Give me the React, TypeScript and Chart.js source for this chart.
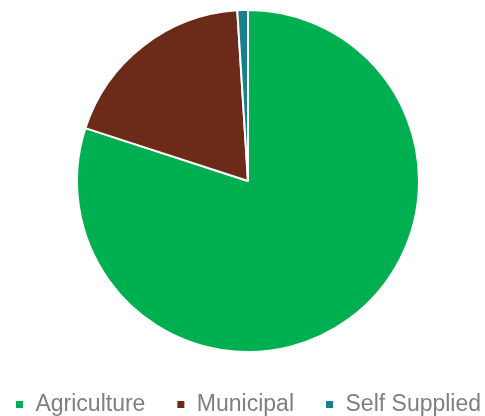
import React, { useEffect, useRef } from "react";
import { Chart, registerables } from "chart.js";

Chart.register(...registerables);

const categories = ["Agriculture", "Municipal", "Self Supplied"];
const values = [80, 19, 1];
const colors = ["#00B050", "#6B2B18", "#18808C"];

const CANVAS_W = 530;
const CANVAS_H = 426;

export default function App() {
  const ref = useRef<HTMLCanvasElement | null>(null);
  useEffect(() => {
    if (!ref.current) return;
    const chart = new Chart(ref.current, {
      type: "pie",
      data: {
        labels: categories,
        datasets: [
          {
            data: values,
            backgroundColor: colors,
            borderColor: "#ffffff",
            borderWidth: 2,
          },
        ],
      },
      options: {
        animation: false,
        responsive: false,
        maintainAspectRatio: false,
        radius: 171,
        layout: { padding: 0 },
        plugins: {
          tooltip: { enabled: false },
          legend: {
            position: "bottom",
            labels: {
              boxWidth: 9,
              boxHeight: 9,
              padding: 31,
              color: "#7F7F7F",
              font: { family: "'Liberation Sans', Arial, sans-serif", size: 23 },
            },
          },
        },
      },
    });
    return () => chart.destroy();
  }, []);
  return (
    <div
      style={{
        position: "fixed",
        left: 0,
        top: 0,
        width: 485,
        height: 416,
        overflow: "hidden",
        background: "#fff",
      }}
    >
      <canvas
        ref={ref}
        width={CANVAS_W}
        height={CANVAS_H}
        style={{ position: "absolute", left: -17, top: 0, width: CANVAS_W, height: CANVAS_H }}
      />
    </div>
  );
}
